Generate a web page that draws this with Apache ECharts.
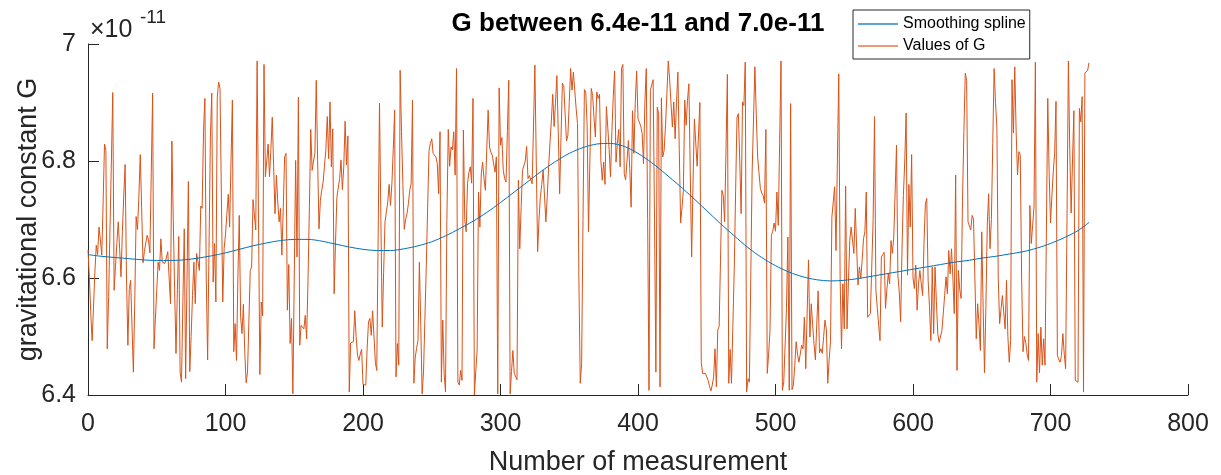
<!DOCTYPE html>
<html>
<head>
<meta charset="utf-8">
<script src="https://cdn.jsdelivr.net/npm/echarts@6/dist/echarts.min.js"></script>
<style>
html,body{margin:0;padding:0;background:#fff;}
#chart{width:1221px;height:475px;}
</style>
</head>
<body>
<div id="chart"></div>
<script>
// Values of G (units of 1e-11), measurement index 0..728
var gA = [6.648,6.60,6.54,6.493,6.55,6.61,6.656,6.640,6.687,6.665,
 6.639,6.73,6.829,6.818,6.479,6.568,6.568,6.80,6.917,6.579,
 6.62,6.66,6.696,6.65,6.602,6.68,6.74,6.794,6.60,6.485,
 6.58,6.596,6.596,6.439,6.56,6.705,6.683,6.74,6.811,6.72,
 6.626,6.645,6.66,6.673,6.665,6.643,6.78,6.916,6.479,6.53,
 6.58,6.627,6.613,6.667,6.627,6.627,6.625,6.627,6.645,6.60,
 6.556,6.834,6.70,6.58,6.471,6.58,6.671,6.439,6.422,6.56,
 6.684,6.428,6.60,6.765,6.44,6.50,6.57,6.627,6.556,6.642,
 6.639,6.613,6.723,6.719,6.85,6.907,6.60,6.460,6.65,6.84,
 6.916,6.593,6.659,6.559,6.909,6.935,6.924,6.74,6.559,6.65];
var gB = [6.675,6.673,6.743,6.687,6.80,6.904,6.474,6.522,6.459,6.60,
 6.707,6.533,6.505,6.555,6.474,6.421,6.439,6.438,6.613,6.619,
 6.734,6.737,6.682,6.971,6.70,6.435,6.559,6.535,6.965,6.773,
 6.80,6.829,6.773,6.82,6.875,6.79,6.710,6.776,6.73,6.696,
 6.719,6.639,6.72,6.807,6.813,6.545,6.623,6.488,6.531,6.402,
 6.60,6.801,6.636,6.909,6.485,6.519,6.516,6.513,6.536,6.496,
 6.596,6.72,6.854,6.784,6.80,6.813,6.938,6.80,6.684,6.733,
 6.75,6.764,6.764,6.82,6.876,6.804,6.901,6.790,6.855,6.573,
 6.66,6.738,6.740,6.77,6.802,6.751,6.790,6.868,6.793,6.843,
 6.405,6.489,6.490,6.491,6.544,6.50,6.468,6.459,6.470,6.478];
var gC = [6.418,6.418,6.417,6.48,6.525,6.531,6.502,6.544,6.542,6.455,
 6.442,6.67,6.899,6.70,6.516,6.61,6.696,6.713,6.730,6.760,
 6.724,6.761,6.82,6.887,6.431,6.488,6.451,6.955,6.85,6.76,
 6.683,6.70,6.71,6.727,6.75,6.761,6.904,6.420,6.465,6.48,
 6.494,6.627,6.52,6.402,6.439,6.439,6.619,6.72,6.818,6.83,
 6.838,6.813,6.81,6.807,6.796,6.744,6.850,6.422,6.528,6.437,
 6.405,6.70,6.854,6.791,6.824,6.819,6.850,6.776,6.958,6.422,
 6.417,6.442,6.425,6.853,6.70,6.679,6.761,6.78,6.790,6.762,
 6.907,6.400,6.44,6.476,6.747,6.687,6.778,6.798,6.77,6.750,
 6.82,6.887,6.824,6.815,6.810,6.807,6.781,6.807,6.402,6.925];
var gD = [6.827,6.840,6.784,6.77,6.764,6.85,6.938,6.402,6.44,6.476,
 6.437,6.439,6.426,6.767,6.650,6.72,6.784,6.787,6.80,6.825,
 6.770,6.775,6.776,6.761,6.86,6.964,6.80,6.645,6.70,6.739,
 6.76,6.784,6.74,6.696,6.74,6.79,6.832,6.87,6.914,6.859,
 6.90,6.946,6.85,6.744,6.84,6.933,6.929,6.88,6.834,6.844,
 6.90,6.958,6.921,6.952,6.92,6.89,6.864,6.60,6.420,6.454,
 6.70,6.922,6.918,6.861,6.679,6.80,6.924,6.912,6.874,6.841,
 6.918,6.907,6.914,6.80,6.767,6.798,6.760,6.893,6.858,6.82,
 6.773,6.85,6.91,6.954,6.798,6.83,6.854,6.790,6.958,6.965,
 6.778,6.768,6.80,6.835,6.787,6.721,6.886,6.813,6.90,6.954];
var gE = [6.872,6.871,6.86,6.847,6.795,6.90,6.958,6.70,6.408,6.921,
 6.93,6.939,6.70,6.439,6.892,6.881,6.414,6.908,6.807,6.818,
 6.860,6.915,6.971,6.94,6.898,6.858,6.901,6.838,6.90,6.952,
 6.82,6.694,6.72,6.750,6.904,6.861,6.904,6.932,6.78,6.636,
 6.76,6.872,6.870,6.791,6.793,6.900,6.456,6.437,6.438,6.437,
 6.437,6.425,6.415,6.407,6.417,6.431,6.479,6.414,6.511,6.517,
 6.63,6.750,6.741,6.696,6.82,6.948,6.420,6.478,6.420,6.52,
 6.616,6.75,6.875,6.881,6.80,6.710,6.901,6.895,6.969,6.405,
 6.428,6.422,6.60,6.781,6.87,6.961,6.88,6.807,6.78,6.753,
 6.745,6.741,6.728,6.854,6.437,6.47,6.511,6.673,6.68,6.694];
var gF = [6.680,6.747,6.690,6.83,6.971,6.408,6.422,6.424,6.55,6.670,
 6.408,6.898,6.409,6.417,6.45,6.491,6.47,6.456,6.47,6.485,
 6.479,6.533,6.445,6.54,6.631,6.499,6.556,6.52,6.488,6.460,
 6.52,6.578,6.472,6.479,6.471,6.50,6.528,6.511,6.420,6.46,
 6.491,6.704,6.73,6.756,6.647,6.80,6.949,6.60,6.479,6.590,
 6.513,6.757,6.513,6.59,6.664,6.687,6.687,6.642,6.719,6.653,
 6.588,6.619,6.599,6.63,6.667,6.679,6.747,6.533,6.536,6.539,
 6.536,6.70,6.876,6.579,6.55,6.52,6.493,6.636,6.64,6.644,
 6.548,6.58,6.607,6.590,6.664,6.642,6.670,6.747,6.827,6.605,
 6.576,6.525,6.65,6.741,6.80,6.882,6.605,6.760,6.687,6.811];
var gG = [6.60,6.582,6.622,6.545,6.590,6.613,6.59,6.570,6.66,6.727,
 6.736,6.596,6.55,6.493,6.619,6.505,6.619,6.56,6.505,6.49,
 6.488,6.51,6.539,6.57,6.602,6.573,6.647,6.607,6.650,6.60,
 6.539,6.776,6.442,6.613,6.58,6.565,6.733,6.85,6.950,6.938,
 6.696,6.699,6.682,6.707,6.701,6.60,6.496,6.556,6.52,6.476,
 6.679,6.55,6.438,6.55,6.69,6.744,6.65,6.70,6.83,6.958,
 6.90,6.858,6.60,6.522,6.519,6.570,6.570,6.513,6.596,6.50,
 6.456,6.493,6.939,6.848,6.961,6.85,6.776,6.816,6.810,6.60,
 6.474,6.500,6.49,6.47,6.459,6.724,6.659,6.69,6.721,6.969,
 6.422,6.505,6.438,6.516,6.451,6.496,6.451,6.451,6.907,6.78];
var gH = [6.694,6.74,6.781,6.813,6.902,6.468,6.46,6.456,6.468,6.505,
 6.47,6.445,6.70,6.971,6.82,6.711,6.80,6.886,6.425,6.423,
 6.422,6.890,6.867,6.910,6.405,6.950,6.952,6.955,6.968];

// Smoothing spline, read at these measurement numbers
var splineAt = [0,10,20,30,40,50,60,70,80,90,100,110,120,130,140,150,160,170,180,190,
 200,210,220,230,240,250,260,270,280,290,300,310,320,330,340,350,360,370,380,390,
 400,410,420,430,440,450,460,470,480,490,500,510,520,530,540,550,560,570,580,590,
 600,610,620,630,640,650,660,670,680,690,700,710,720,728];
var splineVal = [6.640,6.637,6.635,6.633,6.631,6.630,6.630,6.631,6.634,6.638,6.643,6.649,6.655,6.660,6.664,6.666,6.666,6.663,6.658,6.653,
 6.649,6.647,6.647,6.650,6.655,6.662,6.672,6.684,6.697,6.712,6.729,6.747,6.765,6.783,6.799,6.813,6.823,6.829,6.830,6.825,
 6.813,6.797,6.778,6.758,6.737,6.715,6.693,6.672,6.652,6.635,6.621,6.610,6.602,6.597,6.595,6.596,6.599,6.603,6.607,6.611,
 6.615,6.619,6.623,6.627,6.630,6.634,6.637,6.641,6.645,6.651,6.659,6.669,6.681,6.695];

var xTicks = [0,100,200,300,400,500,600,700,800];
var yTicks = ['6.4','6.6','6.8','7'];

var gAll = gA.concat(gB, gC, gD, gE, gF, gG, gH);
var gData = gAll.map(function(v, i){ return [i, v]; });
var splineData = splineAt.map(function(x, i){ return [x, splineVal[i]]; });

var FONT = 'Liberation Sans, Arial, Helvetica, sans-serif';
var axisCol = '#262626';

var chart = echarts.init(document.getElementById('chart'), null, {renderer: 'canvas'});
chart.setOption({
  animation: false,
  backgroundColor: '#ffffff',
  grid: {left: 88, right: 33, top: 44, bottom: 80, containLabel: false, outerBoundsMode: 'none'},
  xAxis: {
    type: 'value', min: 0, max: 800, interval: 100,
    name: 'Number of measurement', nameLocation: 'middle', nameGap: 54, nameMoveOverlap: false,
    nameTextStyle: {fontFamily: FONT, fontSize: 27, color: axisCol},
    axisLine: {show: true, onZero: false, lineStyle: {color: axisCol, width: 1}},
    axisTick: {show: true, inside: true, length: 11, lineStyle: {color: axisCol, width: 1}},
    axisLabel: {fontFamily: FONT, fontSize: 25, color: axisCol, margin: 17,
      formatter: function(v){ return String(xTicks[Math.round(v/100)]); }},
    splitLine: {show: false}
  },
  yAxis: {
    type: 'value', min: 6.4, max: 7.0, interval: 0.2,
    name: 'gravitational constant G', nameLocation: 'middle', nameGap: 46, nameMoveOverlap: false,
    nameTextStyle: {fontFamily: FONT, fontSize: 27, color: axisCol},
    axisLine: {show: true, onZero: false, lineStyle: {color: axisCol, width: 1}},
    axisTick: {show: true, inside: true, length: 11, lineStyle: {color: axisCol, width: 1}},
    axisLabel: {fontFamily: FONT, fontSize: 25, color: axisCol, margin: 12,
      formatter: function(v){ return yTicks[Math.round((v-6.4)/0.2)]; }},
    splitLine: {show: false}
  },
  legend: {
    data: [
      {name: 'Smoothing spline', icon: 'rect', itemStyle: {color: '#5fa3d6'}},
      {name: 'Values of G', icon: 'rect', itemStyle: {color: '#e99a78'}}
    ],
    orient: 'vertical', left: 853, top: 10,
    backgroundColor: '#ffffff', borderColor: '#262626', borderWidth: 1,
    padding: [5, 4, 4, 5], itemGap: 4, itemWidth: 40, itemHeight: 2,
    textStyle: {fontFamily: FONT, fontSize: 16, color: '#000', lineHeight: 18}
  },
  graphic: [
    {type: 'text', x: 638, y: 24, z: 100,
     style: {text: 'G between 6.4e-11 and 7.0e-11', fill: '#000', font: 'bold 26px ' + FONT, align: 'center', verticalAlign: 'middle'}},
    {type: 'text', x: 90, y: 30, z: 100,
     style: {text: '\u00d710', fill: axisCol, font: '25px ' + FONT, align: 'left', verticalAlign: 'middle'}},
    {type: 'text', x: 140, y: 18, z: 100,
     style: {text: '-11', fill: axisCol, font: '19px ' + FONT, align: 'left', verticalAlign: 'middle'}}
  ],
  series: [
    {name: 'Values of G', type: 'line', data: gData, symbol: 'none', showSymbol: false,
     lineStyle: {color: '#D95319', width: 1}, itemStyle: {color: '#D95319'}, z: 2, clip: true},
    {name: 'Smoothing spline', type: 'line', data: splineData, symbol: 'none', showSymbol: false,
     smooth: 0.3,
     lineStyle: {color: '#0072BD', width: 1}, itemStyle: {color: '#0072BD'}, z: 3, clip: true}
  ]
});
</script>
</body>
</html>
